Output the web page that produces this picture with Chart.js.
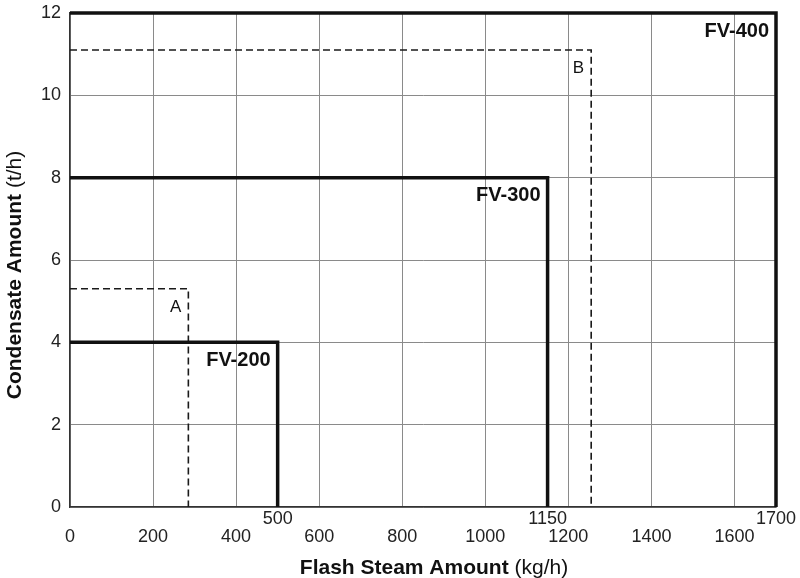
<!DOCTYPE html>
<html><head><meta charset="utf-8">
<script src="https://cdn.jsdelivr.net/npm/chart.js@4/dist/chart.umd.min.js"></script>
<style>html,body{margin:0;padding:0;background:#fff}#wrap{width:800px;height:578px}</style>
</head><body><div id="wrap"><canvas id="c" width="800" height="578"></canvas></div>
<script>
// ---- data ----
const modelNames = ['FV-200', 'FV-300', 'FV-400'];
const modelFlashSteam = [500, 1150, 1700];   // kg/h
const modelCondensate = [4, 8, 12];          // t/h
const exampleNames = ['A', 'B'];
const exampleFlashSteam = [285, 1255];
const exampleCondensate = [5.3, 11.1];
const xTickValues = [0, 200, 400, 600, 800, 1000, 1200, 1400, 1600];
const xLimitTickValues = [500, 1150, 1700];
const yTickValues = [0, 2, 4, 6, 8, 10, 12];
const xTitleBold = 'Flash Steam Amount', xTitleUnit = '(kg/h)';
const yTitleBold = 'Condensate Amount', yTitleUnit = '(t/h)';

const FONT = "'Liberation Sans', Arial, Helvetica, sans-serif";

function boxPath(f, c) { return [{x: 0, y: c}, {x: f, y: c}, {x: f, y: 0}]; }
const common = {pointRadius: 0, fill: false, tension: 0, clip: false, borderJoinStyle: 'miter', borderCapStyle: 'butt'};
const datasets = [];
modelNames.forEach((n, i) => datasets.push(Object.assign({
  label: n, data: boxPath(modelFlashSteam[i], modelCondensate[i]),
  borderColor: '#111', borderWidth: 3.5, boldLabel: true}, common)));
exampleNames.forEach((n, i) => datasets.push(Object.assign({
  label: n, data: boxPath(exampleFlashSteam[i], exampleCondensate[i]),
  borderColor: '#1a1a1a', borderWidth: 1.6, borderDash: [7, 4], boldLabel: false}, common)));

const labelPlugin = {
  id: 'boxLabels',
  afterDatasetsDraw(chart) {
    const ctx = chart.ctx;
    chart.data.datasets.forEach((ds, i) => {
      const p = chart.getDatasetMeta(i).data[1];
      ctx.save();
      ctx.font = ds.boldLabel ? 'bold 20px ' + FONT : '17px ' + FONT;
      ctx.fillStyle = '#111';
      ctx.textAlign = 'right';
      ctx.textBaseline = 'middle';
      ctx.fillText(ds.label, p.x - 7, p.y + 18);
      ctx.restore();
    });
  }
};

function drawMixed(ctx, bold, unit, cx, cy) {
  ctx.font = 'bold 21px ' + FONT;
  const wb = ctx.measureText(bold + ' ').width;
  ctx.font = '21px ' + FONT;
  const wu = ctx.measureText(unit).width;
  const x0 = cx - (wb + wu) / 2;
  ctx.textAlign = 'left';
  ctx.textBaseline = 'middle';
  ctx.font = 'bold 21px ' + FONT;
  ctx.fillText(bold, x0, cy);
  ctx.font = '21px ' + FONT;
  ctx.fillText(unit, x0 + wb, cy);
}

const titlePlugin = {
  id: 'axisTitles',
  afterDraw(chart) {
    const ctx = chart.ctx;
    ctx.save();
    ctx.fillStyle = '#111';
    drawMixed(ctx, xTitleBold, xTitleUnit, 434, 568);
    ctx.translate(15.5, 275);
    ctx.rotate(-Math.PI / 2);
    drawMixed(ctx, yTitleBold, yTitleUnit, 0, 0);
    ctx.restore();
  }
};

const plainNum = v => String(v);

new Chart(document.getElementById('c'), {
  type: 'line',
  data: {datasets},
  options: {
    responsive: false,
    animation: false,
    devicePixelRatio: 1,
    layout: {padding: {top: 13, right: 24, bottom: 0, left: 0}},
    plugins: {legend: {display: false}, tooltip: {enabled: false}},
    scales: {
      x: {
        type: 'linear', position: 'bottom', weight: 1, min: 0, max: 1700,
        afterBuildTicks: s => { s.ticks = xTickValues.map(v => ({value: v})); },
        afterFit: s => { s.height = 53; s.paddingLeft = 0; s.paddingRight = 0; },
        grid: {color: '#8a8a8a', lineWidth: 1, drawTicks: false},
        border: {display: false},
        ticks: {color: '#222', padding: 1, maxRotation: 0, autoSkip: false, callback: plainNum, font: {family: FONT, size: 18}}
      },
      x2: {
        type: 'linear', position: 'bottom', weight: 0, min: 0, max: 1700,
        afterBuildTicks: s => { s.ticks = xLimitTickValues.map(v => ({value: v})); },
        afterFit: s => { s.height = 18; s.paddingLeft = 0; s.paddingRight = 0; },
        grid: {display: false, drawTicks: false},
        border: {display: true, color: '#333', width: 1.5},
        ticks: {color: '#222', padding: 1, maxRotation: 0, autoSkip: false, callback: plainNum, font: {family: FONT, size: 18}}
      },
      y: {
        type: 'linear', min: 0, max: 12,
        afterBuildTicks: s => { s.ticks = yTickValues.map(v => ({value: v})); },
        afterFit: s => { s.width = 70; s.paddingTop = 0; s.paddingBottom = 0; },
        grid: {color: '#8a8a8a', lineWidth: 1, drawTicks: false},
        border: {display: true, color: '#333', width: 1.5},
        ticks: {color: '#222', padding: 9, callback: plainNum, font: {family: FONT, size: 18}}
      }
    }
  },
  plugins: [labelPlugin, titlePlugin]
});
</script></body></html>
